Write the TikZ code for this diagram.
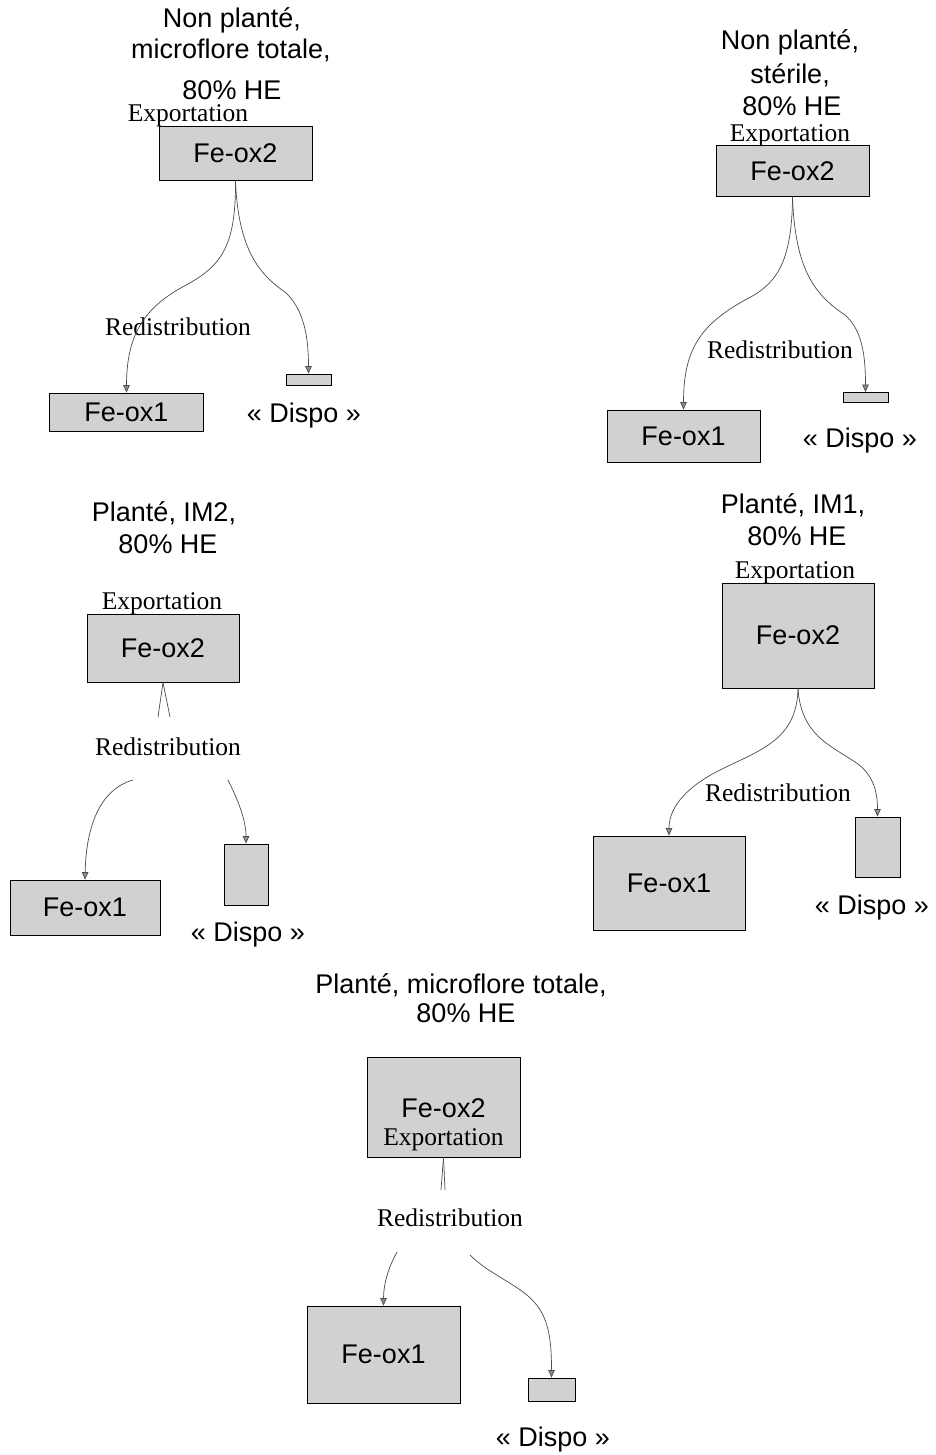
\documentclass[tikz,border=0pt]{standalone}
\usepackage{fontspec}
\setmainfont{Liberation Serif}
\newfontfamily\arialf{Liberation Sans}
\usetikzlibrary{arrows.meta}
\newcommand\sanstxt{\arialf\fontsize{27}{31}\selectfont}
\newcommand\seriftxt{\rmfamily\fontsize{25.5}{29}\selectfont}
\begin{document}
\begin{tikzpicture}[x=1pt,y=-1pt,
  box/.style={draw=black, line width=0.8pt, fill=black!18, inner sep=0pt, font=\sanstxt},
  arr/.style={draw=black!70, line width=0.7pt, -{Triangle[length=7.5pt,width=6.5pt,fill=black!45]}},
  stub/.style={draw=black!70, line width=0.7pt},
  ttl/.style={font=\sanstxt, anchor=base, inner sep=0pt},
  lab/.style={font=\seriftxt, anchor=base, inner sep=0pt}]
\useasboundingbox (0,0) rectangle (935,1455);
\fill[white] (0,0) rectangle (935,1455);

% ---------- Panel 1 ----------
\node[ttl] (t1a) at (232,28) {Non planté,};
\node[ttl] (t1b) at (231,59) {microflore totale,};
\node[ttl] (t1c) at (232,100) {80\% HE};
\node[lab] (e1) at (188,122) {Exportation};
\node[box, minimum width=153pt, minimum height=54pt] (a2) at (235.5,153) {Fe-ox2};
\node[box, minimum width=154pt, minimum height=38pt] (a1) at (126.5,412) {Fe-ox1};
\node[box, minimum width=45pt, minimum height=11pt] (ad) at (308.5,379.5) {};
\node[lab] (r1) at (178,335) {Redistribution};
\node[ttl] (d1) at (304,422) {« Dispo »};
\draw[arr] (a2.south) .. controls (236,245) and (222,265) .. (188,284)
  .. controls (148,305) and (126.5,330) .. (a1.north);
\draw[arr] (a2.south) .. controls (238,250) and (260,275) .. (285,292)
  .. controls (305,310) and (308.5,340) .. (ad.north);

% ---------- Panel 2 ----------
\node[ttl] (t2a) at (790,50) {Non planté,};
\node[ttl] (t2b) at (790,84) {stérile,};
\node[ttl] (t2c) at (792,116) {80\% HE};
\node[lab] (e2) at (790,142) {Exportation};
\node[box, minimum width=153pt, minimum height=51pt] (b2) at (792.5,171) {Fe-ox2};
\node[box, minimum width=153pt, minimum height=52pt] (b1) at (683.5,436) {Fe-ox1};
\node[box, minimum width=45pt, minimum height=10pt] (bd) at (865.5,397.5) {};
\node[lab] (r2) at (780,358) {Redistribution};
\node[ttl] (d2) at (860,447) {« Dispo »};
\draw[arr] (b2.south) .. controls (792,265) and (775,285) .. (745,300)
  .. controls (700,325) and (683.5,350) .. (b1.north);
\draw[arr] (b2.south) .. controls (795,270) and (815,295) .. (845,315)
  .. controls (862,330) and (865.5,355) .. (bd.north);

% ---------- Panel 3 ----------
\node[ttl] (t3a) at (164,521) {Planté, IM2,};
\node[ttl] (t3b) at (168,553) {80\% HE};
\node[lab] (e3) at (162,609) {Exportation};
\node[box, minimum width=152pt, minimum height=68pt] (c2) at (163,648) {Fe-ox2};
\node[box, minimum width=150pt, minimum height=55pt] (c1) at (85,907.5) {Fe-ox1};
\node[box, minimum width=44pt, minimum height=61pt] (cd) at (246,874.5) {};
\node[lab] (r3) at (168,755) {Redistribution};
\node[ttl] (d3) at (248,941) {« Dispo »};
\coordinate (c2l) at (158,717);
\coordinate (c2r) at (170,717);
\coordinate (c3l) at (133,780);
\coordinate (c3r) at (228,780);
\draw[stub] (c2.south) -- (c2l);
\draw[stub] (c2.south) -- (c2r);
\draw[arr] (c3l) .. controls (98,790) and (86,830) .. (c1.north);
\draw[arr] (c3r) .. controls (238,800) and (246,820) .. (cd.north);

% ---------- Panel 4 ----------
\node[ttl] (t4a) at (793,513) {Planté, IM1,};
\node[ttl] (t4b) at (797,545) {80\% HE};
\node[lab] (e4) at (795,578) {Exportation};
\node[box, minimum width=152pt, minimum height=105pt] (d4b) at (798,635.5) {Fe-ox2};
\node[box, minimum width=152pt, minimum height=94pt] (d4a) at (669,883) {Fe-ox1};
\node[box, minimum width=45pt, minimum height=60pt] (d4d) at (877.5,847) {};
\node[lab] (r4) at (778,801) {Redistribution};
\node[ttl] (d4) at (872,914) {« Dispo »};
\draw[arr] (d4b.south) .. controls (797,740) and (760,750) .. (720,770)
  .. controls (690,785) and (669,805) .. (d4a.north);
\draw[arr] (d4b.south) .. controls (801,735) and (830,745) .. (855,762)
  .. controls (875,775) and (877.5,795) .. (d4d.north);

% ---------- Panel 5 ----------
\node[ttl] (t5a) at (461,993) {Planté, microflore totale,};
\node[ttl] (t5b) at (466,1022) {80\% HE};
\node[box, minimum width=153pt, minimum height=100pt] (f2) at (443.5,1107) {};
\node[ttl] (f2t) at (443.5,1117) {Fe-ox2};
\node[lab] (f2e) at (443.5,1145) {Exportation};
\node[box, minimum width=153pt, minimum height=97pt] (f1) at (383.5,1354.5) {Fe-ox1};
\node[box, minimum width=47pt, minimum height=23pt] (fd) at (551.5,1389.5) {};
\node[lab] (r5) at (450,1226) {Redistribution};
\node[ttl] (d5) at (553,1446) {« Dispo »};
\coordinate (f2l) at (441,1190);
\coordinate (f2r) at (445,1190);
\coordinate (f3l) at (397,1252);
\coordinate (f3r) at (470,1255);
\draw[stub] (f2.south) -- (f2l);
\draw[stub] (f2.south) -- (f2r);
\draw[arr] (f3l) .. controls (388,1268) and (383.5,1285) .. (f1.north);
\draw[arr] (f3r) .. controls (490,1275) and (520,1285) .. (535,1303)
  .. controls (550,1320) and (551.5,1345) .. (fd.north);
\end{tikzpicture}
\end{document}
